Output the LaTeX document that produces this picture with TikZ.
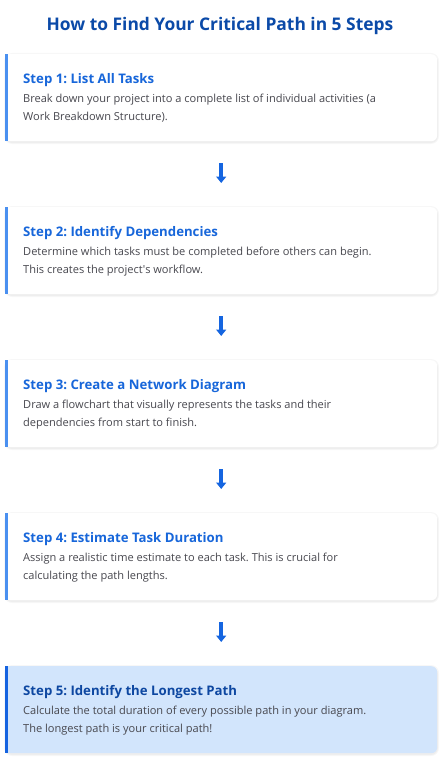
\documentclass[tikz,border=0pt]{standalone}
\usepackage{fontspec}
\setmainfont{Open Sans}
\usetikzlibrary{arrows.meta}
\frenchspacing
\definecolor{titleblue}{HTML}{0B4AA8}
\definecolor{headblue}{HTML}{1766DA}
\definecolor{headdark}{HTML}{0D47A1}
\definecolor{barblue}{HTML}{4A90F0}
\definecolor{bardark}{HTML}{1563E0}
\definecolor{bodygray}{HTML}{48484F}
\definecolor{cardfill}{HTML}{D2E5FC}
\definecolor{arrowblue}{HTML}{1565E0}
\tikzset{
  x=1pt,y=-1pt,
  card/.style={rectangle, minimum width=432pt, minimum height=87pt, inner sep=0pt, anchor=north west, rounded corners=6pt},
  headtxt/.style={anchor=base west, inner sep=0pt, font=\fontsize{13.2}{15}\selectfont\bfseries},
  bodytxt/.style={anchor=base west, inner sep=0pt, font=\fontsize{11.05}{13}\selectfont, text=bodygray},
  arr/.style={draw=arrowblue, line width=3.6pt, -{Triangle[width=10pt,length=6.5pt]}, shorten <=22pt, shorten >=24pt},
}
\newcommand\mycard[8]{%
  % #1 name, #2 top, #3 fill, #4 bar, #5 headcolor, #6 heading, #7 line1, #8 line2
  \fill[black, opacity=0.03, rounded corners=8pt] (4,#2-1) rectangle (439,#2+90);
  \fill[black, opacity=0.035, rounded corners=7pt] (5,#2+1) rectangle (438,#2+89);
  \node[card, fill=#3] (#1) at (5,#2) {};
  \fill[#3] (#1.north west) rectangle ([xshift=8pt]#1.south west);
  \fill[#4] (#1.north west) rectangle ([xshift=3pt]#1.south west);
  \node[headtxt, text=#5] (#1h) at (23,#2+29.5) {#6};
  \node[bodytxt] (#1a) at (23,#2+48.2) {#7};
  \node[bodytxt] (#1b) at (23,#2+66.5) {#8};
}
\begin{document}
\begin{tikzpicture}
\useasboundingbox[fill=white] (0,0) rectangle (447,765);
\node[anchor=base, inner sep=0pt, font=\fontsize{17.4}{20}\selectfont\bfseries, text=titleblue] (title) at (220,30.5) {How to Find Your Critical Path in 5 Steps};
\mycard{s1}{54}{white}{barblue}{headblue}{Step 1: List All Tasks}{Break down your project into a complete list of individual activities (a}{Work Breakdown Structure).}
\mycard{s2}{207}{white}{barblue}{headblue}{Step 2: Identify Dependencies}{Determine which tasks must be completed before others can begin.}{This creates the project\textquotesingle s workflow.}
\mycard{s3}{360}{white}{barblue}{headblue}{Step 3: Create a Network Diagram}{Draw a flowchart that visually represents the tasks and their}{dependencies from start to finish.}
\mycard{s4}{513}{white}{barblue}{headblue}{Step 4: Estimate Task Duration}{Assign a realistic time estimate to each task. This is crucial for}{calculating the path lengths.}
\mycard{s5}{666}{cardfill}{bardark}{headdark}{Step 5: Identify the Longest Path}{Calculate the total duration of every possible path in your diagram.}{The longest path is your critical path!}
\draw[arr] (s1.south) -- (s2.north);
\draw[arr] (s2.south) -- (s3.north);
\draw[arr] (s3.south) -- (s4.north);
\draw[arr] (s4.south) -- (s5.north);
\end{tikzpicture}
\end{document}
